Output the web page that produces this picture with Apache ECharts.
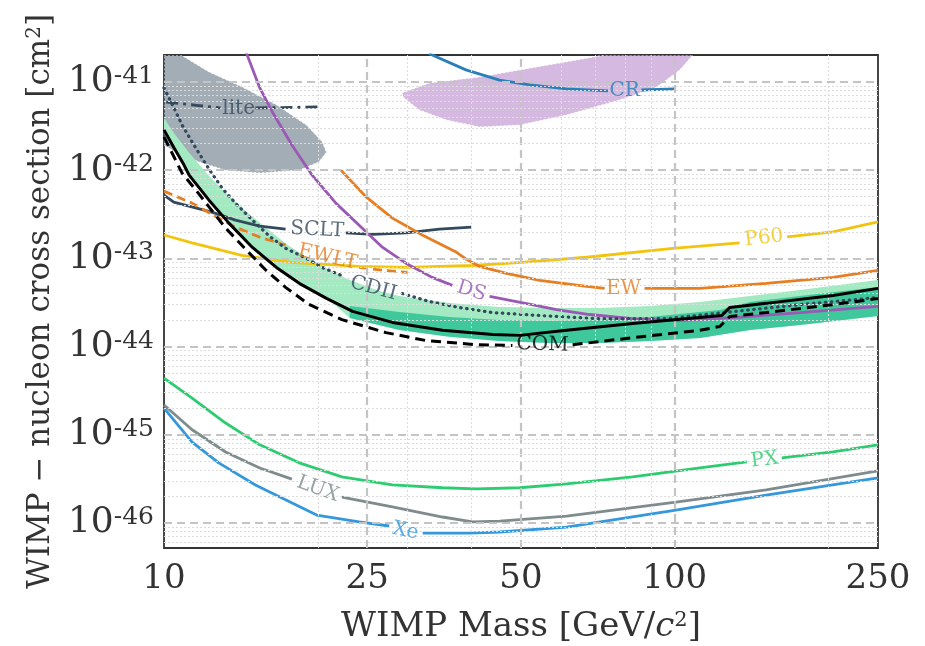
<!DOCTYPE html>
<html>
<head>
<meta charset="utf-8">
<script src="https://cdn.jsdelivr.net/npm/echarts@6/dist/echarts.min.js"></script>
<style>
  html, body { margin: 0; padding: 0; background: #ffffff; }
  #chart { width: 925px; height: 646px; }
</style>
</head>
<body>
<div id="chart"></div>
<script>
// ---- axis ranges and ticks (mass in GeV/c^2, cross section in cm^2) ----
const massMin = 10, massMax = 250;
const sigmaMin = 5.21e-47, sigmaMax = 2.02e-41;
const xTickValues = [10, 25, 50, 100, 250];
const yTickValues = [1e-46, 1e-45, 1e-44, 1e-43, 1e-42, 1e-41];
const xMajorGrid = [25, 50, 100];
const xMinorGrid = [20, 30, 40, 60, 70, 80, 90, 200];

// cross sections are handed to the y axis in units of 1e-47 cm^2 so the
// log scale keeps full precision; tick labels convert back to powers of ten
const SIGMA_UNIT = 1e-47;
const UNIT_EXP = -47;

// ---- exclusion / sensitivity curves (null marks the break under a curve label) ----
const crMass  = [33, 39, 45.4, 52, 61.4, 74, null, 86, 100];
const crSigma = [2.1e-41, 1.37e-41, 1.05e-41, 9.25e-42, 8.33e-42, 7.91e-42, null, 8.1e-42, 8.33e-42];

const liteMass  = [10.1, 11.7, 12.9, null, 15.1, 20];
const liteSigma = [5.9e-42, 5.4e-42, 5.07e-42, null, 5.07e-42, 5.2e-42];

const scltMass  = [10, 10.45, 12.4, 13.8, 15.4, 17.3, null, 22.7, 25.6, 29.8, 34.6, 40];
const scltSigma = [5.21e-43, 4.34e-43, 3.34e-43, 2.71e-43, 2.32e-43, 2.14e-43, null, 1.95e-43, 1.87e-43, 1.95e-43, 2.14e-43, 2.26e-43];

const ewltMass  = [10, 11.35, 12.4, 13.8, 15.4, 17.3, null, 24.1, 27.0, 30];
const ewltSigma = [5.78e-43, 4.23e-43, 3.17e-43, 2.26e-43, 1.74e-43, 1.41e-43, null, 7.9e-44, 7.3e-44, 6.93e-44];

const p60Mass  = [10, 11.35, 14.2, 17.8, 24.1, 30, 40.2, 50.1, 67.2, 99.1, 134, null, 166, 204, 250];
const p60Sigma = [1.84e-43, 1.5e-43, 1.08e-43, 9.0e-44, 8.1e-44, 7.9e-44, 8.3e-44, 9.0e-44, 1.03e-43, 1.3e-43, 1.5e-43, null, 1.75e-43, 2.0e-43, 2.59e-43];

const dsMass  = [14.3, 15.4, 16.3, 17.8, 19.5, 21.7, 24.1, 26.8, 29.8, 33.5, 36.7, null, 43.4, 51.3, 58.7, 68.1, 82.7, 101, 130, 176, 250];
const dsSigma = [2.63e-41, 8.55e-42, 4.57e-42, 1.93e-42, 8.77e-43, 4.23e-43, 2.38e-43, 1.33e-43, 8.77e-44, 6.09e-44, 4.94e-44, null, 3.71e-44, 3.07e-44, 2.63e-44, 2.31e-44, 2.07e-44, 1.97e-44, 2.13e-44, 2.43e-44, 2.85e-44];

const ewMass  = [22.2, 24.9, 28, 32.1, 37.4, 39.1, 41.5, 46.8, 54.4, 67.2, 72.9, null, 87.3, 112, 151, 204, 250];
const ewSigma = [1.0e-42, 4.94e-43, 2.86e-43, 1.83e-43, 1.17e-43, 9.74e-44, 8.11e-44, 6.76e-44, 5.63e-44, 4.82e-44, 4.57e-44, null, 4.57e-44, 4.57e-44, 5.21e-44, 6.09e-44, 7.3e-44];

const cdiiMass  = [10, 10.46, 10.85, 11.35, 11.87, 12.4, 13.0, 13.8, 14.9, 16.1, 17.3, 19.0, 20.6, 22.3, null, 29.3, 33.1, 37.9, 44.0, 54.4, 71.3, 96.4, 130, 176, 250];
const cdiiSigma = [8.55e-42, 5.07e-42, 3.25e-42, 2.09e-42, 1.37e-42, 9.25e-43, 6.25e-43, 4.23e-43, 2.71e-43, 1.78e-43, 1.3e-43, 1.0e-43, 7.7e-44, 6.38e-44, null, 3.99e-44, 3.24e-44, 2.77e-44, 2.43e-44, 2.25e-44, 2.07e-44, 2.07e-44, 2.49e-44, 2.99e-44, 3.6e-44];

const comMass  = [10, 10.46, 10.94, 11.2, 12.25, 13.4, 14.9, 16.6, 18.4, 20.8, 23.4, 28, 35.1, 44, 49.7, 61.4, 82.7, 123.6, 128.2, 151, 204, 250];
const comSigma = [2.86e-42, 1.79e-42, 1.15e-42, 8.77e-43, 4.57e-43, 2.51e-43, 1.33e-43, 7.9e-44, 5.21e-44, 3.52e-44, 2.51e-44, 1.88e-44, 1.53e-44, 1.37e-44, 1.34e-44, 1.53e-44, 1.83e-44, 2.25e-44, 2.78e-44, 3.09e-44, 3.8e-44, 4.57e-44];

const comExpMass  = [10, 10.85, 11.55, 12.25, 13.2, 14.5, 15.85, 17.3, 19.2, 22.3, 27.2, 32.6, 40.9, 48.1, null, 63.1, 82.7, 112, 122.5, 128.2, 151, 204, 250];
const comExpSigma = [2.38e-42, 9.25e-43, 5.93e-43, 3.83e-43, 2.21e-43, 1.24e-43, 7.3e-44, 4.69e-44, 3.02e-44, 2.02e-44, 1.44e-44, 1.17e-44, 1.05e-44, 1.03e-44, null, 1.05e-44, 1.26e-44, 1.53e-44, 1.69e-44, 2.19e-44, 2.43e-44, 2.99e-44, 3.5e-44];

const pxMass  = [10, 11.35, 13.2, 15.4, 18.4, 22.3, 28, 35.1, 40.9, 49.7, 61.4, 82.7, 112, 138.4, null, 162, 204, 250];
const pxSigma = [4.4e-45, 2.61e-45, 1.36e-45, 7.7e-46, 4.81e-46, 3.34e-46, 2.71e-46, 2.51e-46, 2.44e-46, 2.51e-46, 2.78e-46, 3.34e-46, 4.22e-46, 4.94e-46, null, 5.48e-46, 6.41e-46, 7.7e-46];

const luxMass  = [10, 11.35, 13.2, 15.4, 17.8, null, 22.3, 28, 35.1, 40.2, 45.4, 61.4, 100.5, 151, 250];
const luxSigma = [2.18e-45, 1.14e-45, 6.38e-46, 4.2e-46, 3.15e-46, null, 1.97e-46, 1.52e-46, 1.17e-46, 1.03e-46, 1.05e-46, 1.2e-46, 1.73e-46, 2.37e-46, 3.89e-46];

const xeMass  = [10, 11.35, 12.8, 15.1, 19.9, 24.1, 27.6, null, 32.1, 39.6, 45.4, 61.4, 100.5, 151, 250];
const xeSigma = [2.01e-45, 8.28e-46, 4.81e-46, 2.7e-46, 1.23e-46, 1.03e-46, 9.25e-47, null, 7.7e-47, 7.7e-47, 7.91e-47, 9.0e-47, 1.4e-46, 2.07e-46, 3.24e-46];

// ---- filled regions (outline vertices) ----
const liteRegionMass  = [10, 10.8, 12.25, 14.2, 16.6, 19.0, 20.4, 20.8, 20.1, 18.4, 15.4, 13.2, 11.7, 10.55, 10];
const liteRegionSigma = [2.02e-41, 2.02e-41, 1.3e-41, 8.8e-42, 5.5e-42, 3.25e-42, 2.1e-42, 1.6e-42, 1.24e-42, 1.0e-42, 9.3e-43, 1.0e-42, 1.24e-42, 1.6e-42, 1.93e-42];

const dsRegionMass  = [29.2, 33.1, 41.5, 49.7, 61.4, 72.9, 108.5, 102.3, 92.2, 78, 61.4, 49.7, 41.5, 35.7, 31.6, 29.5];
const dsRegionSigma = [7.5e-42, 9.74e-42, 1.14e-41, 1.37e-41, 1.69e-41, 2.02e-41, 2.02e-41, 1.37e-41, 8.77e-42, 6.25e-42, 4.23e-42, 3.25e-42, 3.09e-42, 3.71e-42, 4.82e-42, 6.59e-42];

const band2Mass  = [10, 10.46, 11.2, 12.25, 13.4, 14.68, 16.1, 17.58, 19.2, 21.06, 23.1, 26.4, 28.9, 36.2, 45.4, 56.9, 71.3, 89.3, 112, 140.3, 175.8, 250,
                    250, 175.8, 140.3, 112, 89.3, 71.3, 56.9, 45.4, 36.2, 28.9, 23.1, 21.06, 19.2, 17.58, 16.1, 14.68, 13.4, 12.25, 11.2, 10.46, 10];
const band2Sigma = [3.91e-42, 2.64e-42, 1.57e-42, 8.59e-43, 5.09e-43, 3.18e-43, 2.05e-43, 1.38e-43, 1.0e-43, 7.38e-44, 5.69e-44, 4.27e-44, 3.75e-44, 3.12e-44, 2.81e-44, 2.74e-44, 2.74e-44, 2.88e-44, 3.2e-44, 3.75e-44, 4.39e-44, 5.69e-44,
                    2.22e-44, 1.76e-44, 1.54e-44, 1.25e-44, 1.16e-44, 1.1e-44, 1.1e-44, 1.16e-44, 1.29e-44, 1.54e-44, 2.11e-44, 3.38e-44, 4.39e-44, 6.0e-44, 8.64e-44, 1.38e-43, 2.45e-43, 4.47e-43, 8.37e-43, 1.69e-42, 2.71e-42];

const band1Mass  = [23.1, 28.9, 36.2, 45.4, 56.9, 71.3, 89.3, 112, 122.5, 140.3, 175.8, 250,
                    250, 175.8, 140.3, 112, 89.3, 71.3, 56.9, 45.4, 36.2, 28.9, 23.1];
const band1Sigma = [2.88e-44, 2.47e-44, 2.17e-44, 2.0e-44, 1.95e-44, 2.0e-44, 2.17e-44, 2.47e-44, 2.6e-44, 3.2e-44, 3.75e-44, 4.74e-44,
                    2.22e-44, 1.76e-44, 1.54e-44, 1.25e-44, 1.16e-44, 1.1e-44, 1.1e-44, 1.16e-44, 1.29e-44, 1.54e-44, 2.11e-44];

// ---- inline curve labels ----
const tagText  = ['CR', 'lite', 'SCLT', 'EWLT', 'CDII', 'DS', 'EW', 'COM', 'P60', 'PX', 'LUX', 'Xe'];
const tagMass  = [79.8, 14.0, 19.95, 20.9, 25.7, 40, 79.4, 55.1, 149.5, 150, 20.0, 29.7];
const tagSigma = [7.91e-42, 4.95e-42, 2.1e-43, 1.03e-43, 4.57e-44, 4.26e-44, 4.57e-44, 1.05e-44, 1.7e-43, 5.18e-46, 2.43e-46, 8.12e-47];
const tagAngle = [0, 0, -3, -13, -15, -17, 0, -2, 7, 7, -20, -12];

const C = {
  cr: '#2980b9', slate: '#34495e', orange: '#e67e22', yellow: '#f1c40f',
  purple: '#9b59b6', green: '#2ecc71', gray: '#7f8c8d', blue: '#3498db', black: '#000000'
};
const tagColor = [C.cr, C.slate, C.slate, C.orange, C.slate, C.purple, C.orange, C.black, C.yellow, C.green, C.gray, C.blue];

const FONT = 'DejaVu Serif';
const TEXT = '#333333';

const toAxis = s => s / SIGMA_UNIT;

function pairs(ms, ss) {
  return ms.map((m, i) => (m == null ? [null, null] : [m, toAxis(ss[i])]));
}

function curve(name, ms, ss, color, type, width, cap, z) {
  return {
    name, type: 'line', data: pairs(ms, ss), symbol: 'none', connectNulls: false,
    z: z || 4, silent: true, clip: true,
    lineStyle: { color, width: width || 2.8, type: type || 'solid', cap: cap || 'butt' }
  };
}

function region(name, ms, ss, style, z) {
  const pts = ms.map((m, i) => [m, toAxis(ss[i])]);
  return {
    name, type: 'custom', z: z || 2, silent: true, clip: true,
    data: [[massMin, toAxis(sigmaMin)]],
    renderItem: function (params, api) {
      return {
        type: 'polygon',
        shape: { points: pts.map(p => api.coord(p)) },
        style: style
      };
    }
  };
}

// grid lines drawn as mark lines so both major and minor positions follow the log scales
const MAJOR = { color: '#c4c4c4', width: 2.2, type: [8, 5] };
const MINOR = { color: '#dcdcdc', width: 1, type: [2, 2] };
const gridLines = [];
xMajorGrid.forEach(v => gridLines.push({ xAxis: v, lineStyle: MAJOR }));
xMinorGrid.forEach(v => gridLines.push({ xAxis: v, lineStyle: MINOR }));
yTickValues.forEach(v => gridLines.push({ yAxis: toAxis(v), lineStyle: MAJOR }));
for (let e = -47; e <= -42; e++) {
  for (let k = 2; k <= 9; k++) {
    const v = k * Math.pow(10, e);
    if (v > sigmaMin && v < sigmaMax) {
      gridLines.push({ yAxis: toAxis(v), lineStyle: MINOR });
    }
  }
}

const series = [
  {
    name: 'grid', type: 'line', data: [[massMin, toAxis(sigmaMin)]], symbol: 'none', silent: true, z: 1,
    lineStyle: { opacity: 0 },
    markLine: { silent: true, symbol: ['none', 'none'], label: { show: false }, animation: false, data: gridLines }
  },
  region('lite region', liteRegionMass, liteRegionSigma,
    { fill: 'rgba(52,73,94,0.45)', stroke: 'rgba(255,255,255,0.9)', lineWidth: 1, lineDash: [2, 2] }),
  region('DS region', dsRegionMass, dsRegionSigma,
    { fill: 'rgba(155,89,182,0.42)', stroke: 'rgba(255,255,255,0.9)', lineWidth: 1, lineDash: [2, 2] }),
  region('COM 2 sigma', band2Mass, band2Sigma, { fill: '#a3e9c2' }),
  region('COM 1 sigma', band1Mass, band1Sigma, { fill: '#3fc89b' }, 3),

  curve('CR', crMass, crSigma, C.cr),
  curve('lite', liteMass, liteSigma, C.slate, [12, 5, 3, 5], 2.8),
  curve('SCLT', scltMass, scltSigma, C.slate),
  curve('EWLT', ewltMass, ewltSigma, C.orange, [9, 5], 2.8),
  curve('P60', p60Mass, p60Sigma, C.yellow),
  curve('DS', dsMass, dsSigma, C.purple),
  curve('EW', ewMass, ewSigma, C.orange),
  curve('CDII', cdiiMass, cdiiSigma, C.slate, [0.5, 5.5], 3.2, 'round'),
  curve('COM', comMass, comSigma, C.black, 'solid', 3, 'butt', 5),
  curve('COM expected', comExpMass, comExpSigma, C.black, [10, 6], 3, 'butt', 5),
  curve('PX', pxMass, pxSigma, C.green),
  curve('LUX', luxMass, luxSigma, C.gray),
  curve('Xe', xeMass, xeSigma, C.blue),

  {
    name: 'tags', type: 'scatter', z: 8, silent: true, symbolSize: 1,
    itemStyle: { color: 'rgba(0,0,0,0)' },
    data: tagText.map((t, i) => ({
      name: t, value: [tagMass[i], toAxis(tagSigma[i])],
      label: { rotate: tagAngle[i], color: tagColor[i] }
    })),
    label: {
      show: true, position: 'inside', formatter: '{b}',
      fontFamily: FONT, fontSize: 20
    }
  }
];

const option = {
  animation: false,
  backgroundColor: '#ffffff',
  grid: {
    left: 164, top: 55, right: 47, bottom: 98,
    show: true, borderColor: '#333333', borderWidth: 1.8, backgroundColor: '#ffffff',
    containLabel: false, outerBoundsMode: 'none'
  },
  xAxis: {
    type: 'log', logBase: 10, min: massMin, max: massMax,
    axisLine: { show: false }, axisTick: { show: false, customValues: xTickValues },
    splitLine: { show: false }, minorSplitLine: { show: false },
    axisLabel: {
      customValues: xTickValues, margin: 14, color: TEXT,
      fontFamily: FONT, fontSize: 34, formatter: v => String(Math.round(v))
    },
    name: 'WIMP Mass [GeV/{i|c}{s|2}]', nameLocation: 'middle', nameGap: 62,
    nameTextStyle: {
      fontFamily: FONT, fontSize: 34, color: TEXT,
      rich: {
        i: { fontFamily: FONT, fontSize: 34, fontStyle: 'italic', color: TEXT },
        s: { fontFamily: FONT, fontSize: 21, color: TEXT, verticalAlign: 'top' }
      }
    }
  },
  yAxis: {
    type: 'log', logBase: 10, min: toAxis(sigmaMin), max: toAxis(sigmaMax),
    axisLine: { show: false }, axisTick: { show: false, customValues: yTickValues.map(toAxis) },
    splitLine: { show: false }, minorSplitLine: { show: false },
    axisLabel: {
      customValues: yTickValues.map(toAxis), margin: 10, color: TEXT,
      fontFamily: FONT, fontSize: 36,
      formatter: v => '{b|10}{s|' + (Math.round(Math.log10(v)) + UNIT_EXP) + '}',
      rich: {
        b: { fontFamily: FONT, fontSize: 36, color: TEXT },
        s: { fontFamily: FONT, fontSize: 25, color: TEXT, verticalAlign: 'top' }
      }
    },
    name: 'WIMP − nucleon cross section [cm{s|2}]', nameLocation: 'middle', nameGap: 108,
    nameTextStyle: {
      fontFamily: FONT, fontSize: 31, color: TEXT,
      rich: { s: { fontFamily: FONT, fontSize: 20, color: TEXT, verticalAlign: 'top' } }
    }
  },
  series: series
};

const chart = echarts.init(document.getElementById('chart'), null, { renderer: 'canvas' });
chart.setOption(option);
</script>
</body>
</html>
